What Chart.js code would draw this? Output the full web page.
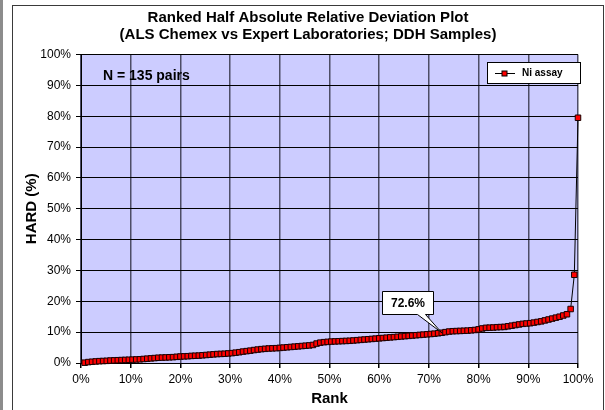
<!DOCTYPE html>
<html>
<head>
<meta charset="utf-8">
<script src="https://cdn.jsdelivr.net/npm/chart.js@4/dist/chart.umd.min.js"></script>
<style>
  html, body { margin: 0; padding: 0; background: #fff; }
  #wrap { position: relative; width: 605px; height: 410px; overflow: hidden; }
  #grayBar { position: absolute; left: 0; top: 0; width: 3px; height: 410px; background: #8c8c8c; }
  #frame { position: absolute; left: 12px; top: 5px; width: 590px; height: 420px; border: 1px solid #3a3a3a; }
  #c { position: absolute; left: 0; top: 0; }
</style>
</head>
<body>
<div id="wrap">
  <div id="grayBar"></div>
  <div id="frame"></div>
  <canvas id="c" width="605" height="410"></canvas>
</div>
<script>
// ---- Data ----
const titleLines = ['Ranked Half Absolute Relative Deviation Plot', '(ALS Chemex vs Expert Laboratories; DDH Samples)'];
const seriesName = 'Ni assay';
const pairCountLabel = 'N = 135 pairs';
const calloutLabel = '72.6%';
const calloutIndex = 97; // 98th ranked pair
const xTickValues = [0, 10, 20, 30, 40, 50, 60, 70, 80, 90, 100];
const yTickValues = [0, 10, 20, 30, 40, 50, 60, 70, 80, 90, 100];
// HARD (%) values of the 135 pairs, sorted ascending
const hardValues = [
  0.1, 0.3, 0.4, 0.5, 0.6, 0.65, 0.7, 0.8, 0.85, 0.9,
  0.95, 1.0, 1.05, 1.1, 1.15, 1.2, 1.3, 1.4, 1.5, 1.6,
  1.7, 1.75, 1.8, 1.85, 1.9, 2.0, 2.1, 2.15, 2.2, 2.3,
  2.35, 2.4, 2.5, 2.6, 2.7, 2.8, 2.9, 2.95, 3.0, 3.1,
  3.2, 3.35, 3.5, 3.7, 3.85, 4.0, 4.2, 4.35, 4.5, 4.6,
  4.7, 4.75, 4.8, 4.9, 5.0, 5.1, 5.2, 5.3, 5.4, 5.5,
  5.6, 5.7, 5.85, 6.3, 6.6, 6.75, 6.85, 6.95, 7.0, 7.05,
  7.1, 7.15, 7.2, 7.3, 7.4, 7.5, 7.6, 7.7, 7.8, 7.9,
  8.0, 8.1, 8.2, 8.3, 8.4, 8.5, 8.6, 8.7, 8.8, 8.9,
  9.0, 9.1, 9.2, 9.3, 9.4, 9.5, 9.65, 9.8, 10.0, 10.2,
  10.3, 10.35, 10.4, 10.45, 10.5, 10.6, 10.7, 10.9, 11.2, 11.4,
  11.45, 11.5, 11.6, 11.65, 11.7, 11.9, 12.1, 12.3, 12.5, 12.7,
  12.8, 12.9, 13.1, 13.3, 13.5, 13.8, 14.1, 14.4, 14.7, 15.0,
  15.4, 15.8, 17.5, 28.6, 79.5
];
// rank (%) of each pair = position / count
const rankValues = hardValues.map((v, i) => (i + 1) / hardValues.length * 100);
const points = hardValues.map((v, i) => ({ x: rankValues[i], y: v }));

const FONT = "'Liberation Sans', Arial, sans-serif";

const decorPlugin = {
  id: 'decor',
  beforeDraw(chart) {
    const { ctx, chartArea: a } = chart;
    ctx.save();
    ctx.fillStyle = '#CCCCFF';
    ctx.fillRect(a.left, a.top, a.right - a.left, a.bottom - a.top);
    ctx.restore();
  },
  afterDraw(chart) {
    const { ctx, scales } = chart;
    ctx.save();
    // N label
    ctx.fillStyle = '#000';
    ctx.font = 'bold 14px ' + FONT;
    ctx.textAlign = 'left';
    ctx.textBaseline = 'middle';
    ctx.fillText(pairCountLabel, 103, 76);

    // Legend box
    const lx = 487.5, ly = 62.5, lw = 93, lh = 21;
    ctx.fillStyle = '#fff';
    ctx.fillRect(lx, ly, lw, lh);
    ctx.strokeStyle = '#000';
    ctx.lineWidth = 1;
    ctx.strokeRect(lx, ly, lw, lh);
    const my = ly + lh / 2;
    ctx.beginPath();
    ctx.moveTo(495, Math.round(my) + 0.5);
    ctx.lineTo(515, Math.round(my) + 0.5);
    ctx.stroke();
    ctx.fillStyle = '#FF0000';
    ctx.fillRect(502, Math.round(my) - 2, 5, 5);
    ctx.strokeRect(502, Math.round(my) - 2, 5, 5);
    ctx.fillStyle = '#000';
    ctx.font = 'bold 10px ' + FONT;
    ctx.textBaseline = 'middle';
    ctx.fillText(seriesName, 522, my + 0.5);

    // Callout
    const ax = scales.x.getPixelForValue(rankValues[calloutIndex]);
    const ay = scales.y.getPixelForValue(hardValues[calloutIndex]);
    const bl = Math.round(ax - 60) + 0.5, br = Math.round(ax - 9) + 0.5;
    const bt = Math.round(ay - 42) + 0.5, bb = Math.round(ay - 19) + 0.5;
    ctx.beginPath();
    ctx.moveTo(bl, bt);
    ctx.lineTo(br, bt);
    ctx.lineTo(br, bb);
    ctx.lineTo(Math.round(ax - 17) + 0.5, bb);
    ctx.lineTo(ax, ay);
    ctx.lineTo(Math.round(ax - 25) + 0.5, bb);
    ctx.lineTo(bl, bb);
    ctx.closePath();
    ctx.fillStyle = '#fff';
    ctx.fill();
    ctx.strokeStyle = '#000';
    ctx.stroke();
    ctx.fillStyle = '#000';
    ctx.font = 'bold 12px ' + FONT;
    ctx.textAlign = 'center';
    ctx.fillText(calloutLabel, (bl + br) / 2, (bt + bb) / 2 + 0.5);
    ctx.restore();
  }
};

new Chart(document.getElementById('c'), {
  type: 'line',
  data: {
    datasets: [{
      label: seriesName,
      data: points,
      borderColor: '#000',
      borderWidth: 1,
      pointStyle: 'rect',
      pointRadius: 3.9,
      pointBackgroundColor: '#FF0000',
      pointBorderColor: '#1a0000',
      pointBorderWidth: 1,
      tension: 0,
      clip: false
    }]
  },
  options: {
    responsive: false,
    animation: false,
    devicePixelRatio: 1,
    layout: { padding: { left: 13, right: 2, top: 5, bottom: 0 } },
    plugins: {
      legend: { display: false },
      tooltip: { enabled: false },
      title: {
        display: true,
        text: titleLines,
        color: '#000',
        font: { family: FONT, size: 15, weight: 'bold', lineHeight: 1.15 },
        padding: { top: 4, bottom: 11 }
      }
    },
    scales: {
      x: {
        type: 'linear',
        min: 0, max: 100,
        afterBuildTicks(s) { s.ticks = xTickValues.map(v => ({ value: v })); },
        afterFit(s) { s.height = 47; },
        ticks: {
          callback: v => v + '%',
          color: '#000',
          font: { family: FONT, size: 12 },
          padding: 4,
          maxRotation: 0,
          autoSkip: false
        },
        grid: { color: '#4d4d66', lineWidth: 1.5, tickLength: 5, tickColor: '#000' },
        border: { display: true, color: '#000', width: 1 },
        title: {
          display: true, text: 'Rank', color: '#000',
          font: { family: FONT, size: 15, weight: 'bold' },
          padding: { top: 0, bottom: 2 }
        }
      },
      y: {
        type: 'linear',
        min: 0, max: 100,
        afterBuildTicks(s) { s.ticks = yTickValues.map(v => ({ value: v })); },
        afterFit(s) { s.width = 68; },
        ticks: {
          callback: v => v + '%',
          color: '#000',
          font: { family: FONT, size: 12 },
          padding: 5
        },
        grid: { color: '#000', lineWidth: 1, tickLength: 5 },
        border: { display: true, color: '#000', width: 1 },
        title: {
          display: true, text: 'HARD (%)', color: '#000',
          font: { family: FONT, size: 15, weight: 'bold' },
          padding: { top: 10, bottom: 0 }
        }
      },
      yRight: {
        type: 'linear',
        position: 'right',
        display: true,
        grid: { display: false },
        ticks: { display: false },
        border: { display: false },
        afterFit(s) { s.width = 25; }
      }
    }
  },
  plugins: [decorPlugin]
});
</script>
</body>
</html>
